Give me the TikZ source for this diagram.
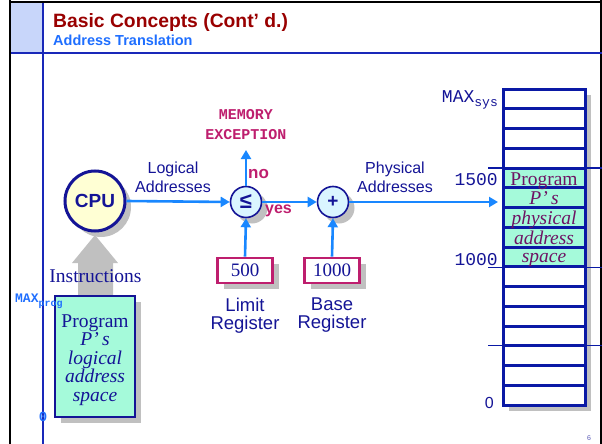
\documentclass[tikz,border=0pt]{standalone}
\usepackage{fontspec}
\setmainfont{Liberation Serif}
\setsansfont{Liberation Sans}
\setmonofont{Liberation Mono}
\usetikzlibrary{arrows.meta,shadows}
\definecolor{navy}{RGB}{20,20,150}
\definecolor{frameblue}{RGB}{25,40,185}
\definecolor{hdrblue}{RGB}{200,214,250}
\definecolor{titlered}{RGB}{153,0,0}
\definecolor{subblue}{RGB}{30,110,255}
\definecolor{arrowblue}{RGB}{25,135,255}
\definecolor{magen}{RGB}{190,30,110}
\definecolor{progreen}{RGB}{165,250,218}
\definecolor{purp}{RGB}{110,20,100}
\definecolor{cpuyellow}{RGB}{255,255,212}
\definecolor{opcyan}{RGB}{218,245,255}
\definecolor{shadowgray}{RGB}{192,192,192}
\definecolor{memblue}{RGB}{10,25,165}
\tikzset{
  shad/.style={drop shadow={shadow xshift=6pt,shadow yshift=-6pt,fill=shadowgray,opacity=1}},
  flow/.style={draw=arrowblue,line width=2.6,-{Triangle[length=9pt,width=10pt]}},
  opcircle/.style={circle,draw=navy,line width=1.6,fill=opcyan,minimum size=31,inner sep=0,shad},
  reg/.style={draw=magen,line width=2.6,fill=white,minimum width=55,minimum height=25,inner sep=0,shad,
     font=\rmfamily\fontsize{19}{19}\selectfont,text=navy},
  memcell/.style={draw=memblue,line width=3,minimum width=82,minimum height=19.75,inner sep=0},
  sans/.style={font=\sffamily\fontsize{16}{19}\selectfont,text=navy,align=center,inner sep=0},
  memtxt/.style={anchor=base,inner sep=0,text=purp,font=\rmfamily\itshape\fontsize{19.5}{19}\selectfont},
  memlab/.style={anchor=base east,inner sep=0,text=navy,font=\ttfamily\fontsize{18}{18}\selectfont},
  tick/.style={draw=memblue,line width=1.2}
}
\begin{document}
\begin{tikzpicture}[x=1pt,y=-1pt]
\useasboundingbox (0,0) rectangle (602,444);
% slide frame
\fill[hdrblue] (11,3) rectangle (43,53);
\draw[black,line width=2] (10,0) -- (10,444);
\draw[black,line width=2] (9,2) -- (602,2);
\draw[black,line width=2] (601,0) -- (601,444);
\draw[frameblue,line width=1.6] (43,3) -- (43,444);
\draw[frameblue,line width=2.2] (11,53) -- (602,53);
\node[anchor=base west,inner sep=0,text=titlered,font=\sffamily\bfseries\fontsize{19.3}{20}\selectfont] (title) at (53,28) {Basic Concepts (Cont’ d.)};
\node[anchor=base west,inner sep=0,text=subblue,font=\sffamily\bfseries\fontsize{14.5}{16}\selectfont] (subtitle) at (53,46) {Address Translation};
% memory column
\fill[shadowgray] (509,95) rectangle (591,411);
\fill[white] (503,89) rectangle (585,405);
\fill[progreen] (503,168) rectangle (585,267.75);
\draw[tick] (488,168) -- (602,168);
\draw[tick] (488,267.75) -- (602,267.75);
\draw[tick] (488,345.75) -- (602,345.75);
\foreach \i in {0,...,15} {
  \node[memcell] (m\i) at (544,{89+19.75*\i+9.875}) {};
}
\node[anchor=base,inner sep=0,text=purp,font=\rmfamily\fontsize{19.5}{19}\selectfont] (t1) at (544,185) {Program};
\node[memtxt] (t2) at (544,204.5) {P’\,s};
\node[memtxt] (t3) at (544,224) {physical};
\node[memtxt] (t4) at (544,244) {address};
\node[memtxt] (t5) at (544,262) {space};
\node[memlab] (maxsys) at (498,102) {MAX\raisebox{-5pt}{\fontsize{13}{13}\selectfont sys}};
\node[memlab] (l1500) at (498,185) {1500};
\node[memlab] (l1000) at (498,265.5) {1000};
\node[anchor=base east,inner sep=0,text=navy,font=\sffamily\fontsize{16}{16}\selectfont] (l0) at (494,408) {0};
% CPU and operators
\fill[shadowgray] (78,296) -- (78,263) -- (72,263) -- (95,235) -- (118,263) -- (113,263) -- (113,296) -- cycle;
\node[circle,draw=navy,line width=3,fill=cpuyellow,minimum size=60,inner sep=0,shad,
  font=\sffamily\bfseries\fontsize{19}{19}\selectfont,text=navy] (cpu) at (95,201) {CPU};
\node[opcircle,font=\sffamily\bfseries\fontsize{22}{22}\selectfont,text=navy] (le) at (246,202) {≤};
\node[opcircle,font=\sffamily\bfseries\fontsize{19}{19}\selectfont,text=navy] (plus) at (333,202) {+};
\coordinate (memin) at (498,202);
\coordinate (exc) at (246,150);
\draw[flow] (cpu.east) -- (le.west);
\draw[flow] (le.east) -- (plus.west);
\draw[flow] (plus.east) -- (memin);
\draw[flow] (le.north) -- (exc);
% registers
\node[reg] (r500) at (245,270.5) {500};
\node[reg] (r1000) at (332,270.5) {1000};
\draw[flow] (r500.north) -- (le.south);
\draw[flow] (r1000.north) -- (plus.south);
\node[sans,font=\sffamily\fontsize{18.5}{18}\selectfont,anchor=north] (limit) at (245,298) {Limit\\Register};
\node[sans,font=\sffamily\fontsize{18.5}{18}\selectfont,anchor=north] (base) at (332,298) {Base\\Register};
% labels
\node[sans,anchor=base] (logical) at (173,173) {Logical};
\node[sans,anchor=base] (logical2) at (173,192) {Addresses};
\node[sans,anchor=base] (phys) at (395,173) {Physical};
\node[sans,anchor=base] (phys2) at (395,192) {Addresses};
\node[anchor=base,inner sep=0,text=magen,font=\ttfamily\bfseries\fontsize{15}{15}\selectfont] (mem1) at (246,119) {MEMORY};
\node[anchor=base,inner sep=0,text=magen,font=\ttfamily\bfseries\fontsize{15}{15}\selectfont] (mem2) at (246,139.5) {EXCEPTION};
\node[anchor=base west,inner sep=0,text=magen,font=\sffamily\bfseries\fontsize{17}{17}\selectfont] (no) at (248,178) {no};
\node[anchor=base west,inner sep=0,text=magen,font=\sffamily\bfseries\fontsize{16}{16}\selectfont] (yes) at (265,213) {yes};
% program box
\node[anchor=base,inner sep=0,text=navy,font=\rmfamily\fontsize{19.5}{19}\selectfont] (instr) at (95.5,282) {Instructions};
\node[draw=navy,line width=1.6,fill=progreen,minimum width=80,minimum height=121,inner sep=0,shad] (prog) at (95,356.5) {};
\node[anchor=base,inner sep=0,text=navy,font=\rmfamily\fontsize{19.5}{19}\selectfont] (p1) at (95,327) {Program};
\node[anchor=base,inner sep=0,text=navy,font=\rmfamily\itshape\fontsize{19.5}{19}\selectfont] (p2) at (95,345.5) {P’\,s};
\node[anchor=base,inner sep=0,text=navy,font=\rmfamily\itshape\fontsize{19.5}{19}\selectfont] (p3) at (95,364) {logical};
\node[anchor=base,inner sep=0,text=navy,font=\rmfamily\itshape\fontsize{19.5}{19}\selectfont] (p4) at (95,382.5) {address};
\node[anchor=base,inner sep=0,text=navy,font=\rmfamily\itshape\fontsize{19.5}{19}\selectfont] (p5) at (95,401) {space};
\node[anchor=base west,inner sep=0,text=subblue,font=\ttfamily\bfseries\fontsize{13}{13}\selectfont] (maxprog) at (15,302) {MAX\raisebox{-4pt}{\fontsize{10}{10}\selectfont prog}};
\node[anchor=center,inner sep=0,text=subblue,font=\ttfamily\bfseries\fontsize{14}{14}\selectfont] (zero) at (43,417) {0};
\node[anchor=base,inner sep=0,text=navy!70,font=\sffamily\fontsize{7}{7}\selectfont] (page) at (589,440) {6};
\end{tikzpicture}
\end{document}
